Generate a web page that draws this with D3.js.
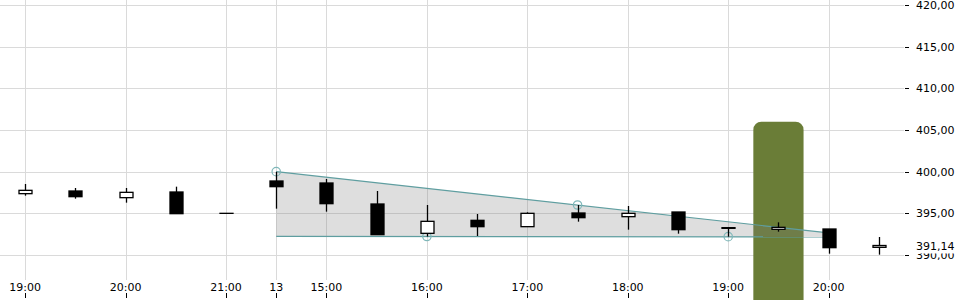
<!DOCTYPE html>
<html>
<head>
<meta charset="utf-8">
<script src="https://cdn.jsdelivr.net/npm/d3@7"></script>
<style>
  html, body { margin: 0; padding: 0; background: #fff; }
  svg { display: block; font-family: "DejaVu Sans", sans-serif; }
</style>
</head>
<body>
<svg id="chart" width="960" height="300"></svg>
<script>
// ---- data ----
const categories = ["19:00","19:30","20:00","20:30","21:00","13","15:00","15:30","16:00","16:30","17:00","17:30","18:00","18:30","19:00","19:30","20:00","20:30"];
const openVals  = [397.36, 397.68, 396.88, 397.56, 395.00, 398.88, 398.64, 396.12, 392.60, 394.16, 393.40, 395.04, 394.60, 395.16, 393.28, 393.08, 393.12, 390.92];
const highVals  = [398.52, 398.04, 398.04, 398.20, 395.00, 399.98, 399.12, 397.68, 396.00, 394.92, 395.12, 396.00, 395.88, 395.16, 393.28, 393.92, 393.12, 392.16];
const lowVals   = [397.12, 396.76, 396.28, 394.96, 395.00, 395.56, 395.20, 392.44, 392.22, 392.28, 393.40, 394.00, 393.04, 392.56, 392.20, 392.80, 390.16, 390.04];
const closeVals = [397.76, 397.00, 397.52, 394.96, 395.00, 398.20, 396.16, 392.44, 394.04, 393.40, 395.00, 394.48, 395.00, 393.04, 393.20, 393.32, 390.88, 391.14];
const xTickIdx    = [0, 2, 4, 5, 6, 8, 10, 12, 14, 16];
const yTicks      = [390, 395, 400, 405, 410, 415, 420];
const upperLine   = [[5, 400.00], [16, 392.65]];
const lowerLine   = [[5, 392.24], [16, 392.17]];
const pivotIdx    = [5, 8, 11, 14];
const pivotVals   = [400.00, 392.22, 396.00, 392.20];
const highlightIdx = 15;
const highlightTop = 406.0;
const lastPrice = 391.14;

// ---- scales ----
const svg = d3.select("#chart");
const plotW = 904, plotBottom = 280;
const x = d3.scaleBand().domain(d3.range(categories.length)).range([0, plotW]).padding(0);
const cx = i => x(i) + x.bandwidth() / 2;
const y = d3.scaleLinear().domain([390, 420]).range([255, 5]);
const fmt = v => d3.format(".2f")(v).replace(".", ",");

// ---- grid ----
const grid = svg.append("g");
grid.selectAll("line.h").data(yTicks).join("line")
  .attr("x1", 0).attr("x2", plotW)
  .attr("y1", d => Math.round(y(d)) + 0.5).attr("y2", d => Math.round(y(d)) + 0.5)
  .attr("stroke", "#dadada").attr("stroke-width", 1);
grid.selectAll("line.v").data(xTickIdx).join("line")
  .attr("x1", d => Math.round(cx(d)) + 0.5).attr("x2", d => Math.round(cx(d)) + 0.5)
  .attr("y1", 0).attr("y2", plotBottom)
  .attr("stroke", "#dadada").attr("stroke-width", 1);

// ---- highlight column ----
const hx = x(highlightIdx);
svg.append("rect")
  .attr("x", hx).attr("y", y(highlightTop))
  .attr("width", x.bandwidth()).attr("height", 300)
  .attr("rx", 8).attr("ry", 8)
  .attr("fill", "#6a7d37");

// ---- triangle pattern ----
const poly = [
  [cx(upperLine[0][0]), y(upperLine[0][1])],
  [cx(upperLine[1][0]), y(upperLine[1][1])],
  [cx(lowerLine[1][0]), y(lowerLine[1][1])],
  [cx(lowerLine[0][0]), y(lowerLine[0][1])]
];
svg.append("path")
  .attr("d", d3.line()(poly) + "Z")
  .attr("fill", "rgba(128,128,128,0.26)");
[upperLine, lowerLine].forEach(l => {
  svg.append("line")
    .attr("x1", cx(l[0][0])).attr("y1", y(l[0][1]))
    .attr("x2", cx(l[1][0])).attr("y2", y(l[1][1]))
    .attr("stroke", "#5f9ea0").attr("stroke-width", 1.2);
});
svg.selectAll("circle.pivot").data(pivotIdx).join("circle")
  .attr("cx", d => cx(d)).attr("cy", (d, i) => y(pivotVals[i]))
  .attr("r", 4.2).attr("fill", "none")
  .attr("stroke", "#7fb7b9").attr("stroke-width", 1.2);

// ---- candles ----
const bodyW = 13;
const candles = svg.append("g").selectAll("g").data(categories).join("g");
candles.append("line")
  .attr("x1", (d, i) => Math.round(cx(i)) + 0.5).attr("x2", (d, i) => Math.round(cx(i)) + 0.5)
  .attr("y1", (d, i) => y(highVals[i])).attr("y2", (d, i) => y(lowVals[i]))
  .attr("stroke", "#000").attr("stroke-width", 1.3);
candles.append("rect")
  .attr("x", (d, i) => Math.round(cx(i)) + 0.5 - bodyW / 2)
  .attr("y", (d, i) => y(Math.max(openVals[i], closeVals[i])))
  .attr("width", bodyW)
  .attr("height", (d, i) => Math.max(0.01, Math.abs(y(openVals[i]) - y(closeVals[i]))))
  .attr("fill", (d, i) => closeVals[i] > openVals[i] ? "#fff" : "#000")
  .attr("stroke", "#000").attr("stroke-width", 1.3);

// ---- right axis ----
const ra = svg.append("g");
yTicks.forEach(t => {
  ra.append("line").attr("x1", 905).attr("x2", 909)
    .attr("y1", Math.round(y(t)) + 0.5).attr("y2", Math.round(y(t)) + 0.5)
    .attr("stroke", "#000");
  ra.append("text").attr("x", 916).attr("y", y(t) + 4)
    .attr("font-size", 11).attr("fill", "#000").text(fmt(t));
});
ra.append("rect").attr("x", 912).attr("y", y(lastPrice) - 7)
  .attr("width", 48).attr("height", 15).attr("fill", "#fff");
ra.append("text").attr("x", 916).attr("y", y(lastPrice) + 4)
  .attr("font-size", 11).attr("fill", "#000").text(fmt(lastPrice));

// ---- bottom axis ----
const ba = svg.append("g");
xTickIdx.forEach(i => {
  ba.append("text").attr("x", cx(i)).attr("y", 291)
    .attr("text-anchor", "middle").attr("font-size", 11).attr("fill", "#000")
    .text(categories[i]);
  ba.append("line")
    .attr("x1", Math.round(cx(i)) + 0.5).attr("x2", Math.round(cx(i)) + 0.5)
    .attr("y1", 293).attr("y2", 298).attr("stroke", "#000");
});
</script>
</body>
</html>
